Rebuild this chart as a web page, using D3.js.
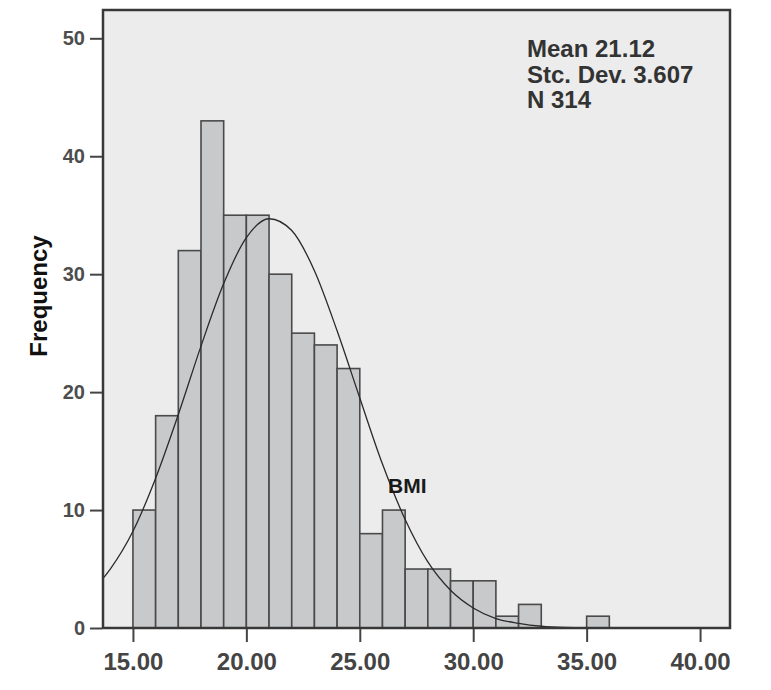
<!DOCTYPE html>
<html>
<head>
<meta charset="utf-8">
<script src="https://cdn.jsdelivr.net/npm/d3@7"></script>
<style>
  body { margin: 0; background: #fff; }
  text { font-family: "Liberation Sans", Arial, sans-serif; font-weight: bold; }
</style>
</head>
<body>
<div id="chart"></div>
<script>
// histogram bins (BMI, width 1)
var binLow   = [15, 16, 17, 18, 19, 20, 21, 22, 23, 24, 25, 26, 27, 28, 29, 30, 31, 32, 35];
var binHigh  = [16, 17, 18, 19, 20, 21, 22, 23, 24, 25, 26, 27, 28, 29, 30, 31, 32, 33, 36];
var binCount = [10, 18, 32, 43, 35, 35, 30, 25, 24, 22, 8, 10, 5, 5, 4, 4, 1, 2, 1];

// fitted normal curve
var curveX = [13.68, 14, 15, 16, 17, 18, 19, 20, 21, 22, 23, 24, 25, 26, 27, 28, 29, 30, 31, 32, 33, 34, 36, 38, 41.32];
var curveY = [4.2, 5.0, 8.2, 12.7, 18.1, 23.9, 29.2, 33.1, 34.7, 33.7, 30.3, 25.2, 19.5, 13.9, 9.2, 5.6, 3.2, 1.7, 0.8, 0.4, 0.15, 0.05, 0, 0, 0];

// axis ticks
var xTicks = [15, 20, 25, 30, 35, 40];
var yTicks = [0, 10, 20, 30, 40, 50];

var statLines = ["Mean 21.12", "Stc. Dev. 3.607", "N 314"];
var curveLabel = "BMI";
var yTitle = "Frequency";

// plot box
var W = 771, H = 690;
var box = {left: 103, right: 730, top: 10, bottom: 628};

var x = d3.scaleLinear()
    .domain([13.68, 41.32])
    .range([box.left, box.right]);
var y = d3.scaleLinear()
    .domain([0, 52.4])
    .range([box.bottom, box.top]);

var svg = d3.select("#chart")
  .append("svg")
    .attr("width", W)
    .attr("height", H);

// background of plot area
svg.append("rect")
    .attr("x", box.left)
    .attr("y", box.top)
    .attr("width", box.right - box.left)
    .attr("height", box.bottom - box.top)
    .style("fill", "#ebeceb");

// bars
var bins = binLow.map(function(d, i) {
  return {x0: d, x1: binHigh[i], n: binCount[i]};
});

svg.selectAll(".bar")
    .data(bins)
  .enter().append("rect")
    .attr("class", "bar")
    .attr("x", d => x(d.x0))
    .attr("y", d => y(d.n))
    .attr("width", d => x(d.x1) - x(d.x0))
    .attr("height", d => y(0) - y(d.n))
    .style("fill", "#c8c9cb")
    .style("stroke", "#4a4a4a")
    .style("stroke-width", 1.6);

// normal curve
var line = d3.line()
    .x((d, i) => x(curveX[i]))
    .y(d => y(d))
    .curve(d3.curveMonotoneX);

svg.append("path")
    .datum(curveY)
    .attr("d", line)
    .style("fill", "none")
    .style("stroke", "#2a2a2a")
    .style("stroke-width", 1.3);

// frame
svg.append("rect")
    .attr("x", box.left)
    .attr("y", box.top)
    .attr("width", box.right - box.left)
    .attr("height", box.bottom - box.top)
    .style("fill", "none")
    .style("stroke", "#383838")
    .style("stroke-width", 2.5);

// y axis
var yAxis = svg.append("g")
    .attr("transform", "translate(" + (box.left - 1) + ",0)")
    .call(d3.axisLeft(y).tickValues(yTicks).tickSize(12).tickPadding(5).tickFormat(d3.format("d")));
yAxis.select(".domain").remove();
yAxis.selectAll("line").style("stroke", "#444").style("stroke-width", 2);
yAxis.selectAll("text")
    .style("font-size", "20px")
    .style("fill", "#4d4d4d");

// x axis
var xAxis = svg.append("g")
    .attr("transform", "translate(0," + (box.bottom + 1) + ")")
    .call(d3.axisBottom(x).tickValues(xTicks).tickSize(13).tickPadding(11).tickFormat(d3.format(".2f")));
xAxis.select(".domain").remove();
xAxis.selectAll("line").style("stroke", "#444").style("stroke-width", 2);
xAxis.selectAll("text")
    .style("font-size", "24px")
    .style("fill", "#444");

// y title
svg.append("text")
    .attr("transform", "translate(47," + 296 + ") rotate(-90)")
    .attr("text-anchor", "middle")
    .style("font-size", "24px")
    .style("fill", "#111")
    .text(yTitle);

// stats box
svg.append("g").selectAll("text")
    .data(statLines)
  .enter().append("text")
    .attr("x", 527)
    .attr("y", (d, i) => 57 + i * 25.5)
    .style("font-size", "24px")
    .style("fill", "#333")
    .text(d => d);

// curve label
svg.append("text")
    .attr("x", 388)
    .attr("y", 493)
    .style("font-size", "21px")
    .style("fill", "#1a1a1a")
    .text(curveLabel);
</script>
</body>
</html>
